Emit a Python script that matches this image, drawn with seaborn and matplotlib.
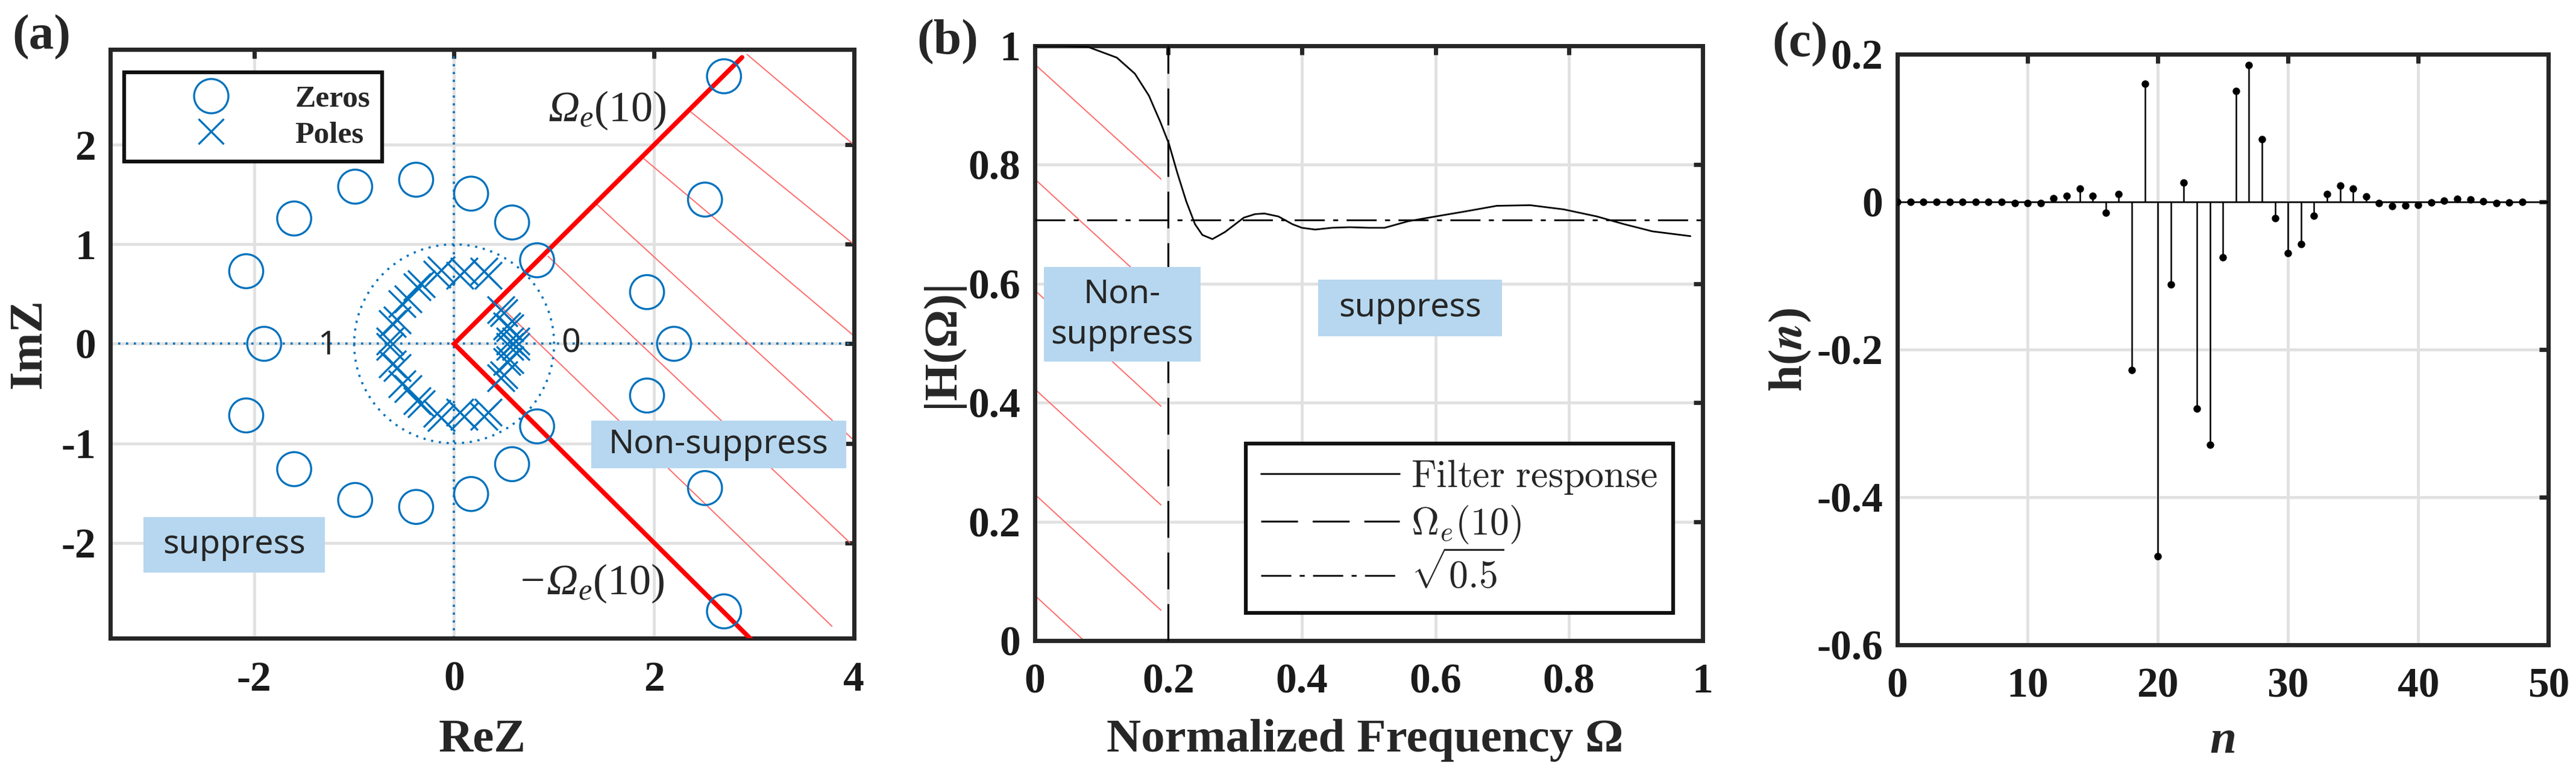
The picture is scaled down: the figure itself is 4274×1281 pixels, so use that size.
import numpy as np
import matplotlib
matplotlib.use("Agg")
import matplotlib.pyplot as plt
import seaborn as sns
from matplotlib.lines import Line2D
from matplotlib.patches import Rectangle, Circle

# ---------------- data ----------------
# (a) pole-zero plot
zeros_re = [2.70, 2.51, 1.93, 2.20, 1.93, 2.51, 2.70,
            0.83, 0.58, 0.17, -0.38, -0.99, -1.60, -2.08, -1.90,
            -2.08, -1.60, -0.99, -0.38, 0.17, 0.58, 0.83]
zeros_im = [2.69, 1.45, 0.52, 0.00, -0.52, -1.45, -2.69,
            0.84, 1.22, 1.51, 1.65, 1.58, 1.26, 0.73, 0.00,
            -0.72, -1.26, -1.57, -1.64, -1.51, -1.21, -0.83]
poles_re = [-0.64, -0.62, -0.57, -0.52, -0.46, -0.37, -0.33, -0.17, -0.13,
            0.10, 0.06, 0.34, 0.30, 0.50, 0.47, 0.56, 0.53, 0.56, 0.62,
            -0.64, -0.62, -0.57, -0.52, -0.46, -0.37, -0.33, -0.17, -0.13,
            0.10, 0.06, 0.34, 0.30, 0.50, 0.47, 0.56, 0.53, 0.56, 0.62]
poles_im = [0.03, 0.20, 0.24, 0.40, 0.45, 0.57, 0.60, 0.70, 0.74,
            0.73, 0.69, 0.69, 0.73, 0.31, 0.34, 0.16, 0.18, 0.03, 0.03,
            -0.03, -0.20, -0.24, -0.40, -0.45, -0.57, -0.60, -0.70, -0.74,
            -0.73, -0.69, -0.69, -0.73, -0.31, -0.34, -0.16, -0.18, -0.03, -0.03]
edge_x = [2.88, 0.0, 3.0]
edge_y = [2.88, 0.0, -3.0]
hatch_a_x0 = [2.93, 2.37, 1.90, 1.43, 0.94, 0.44]
hatch_a_y0 = [2.91, 2.33, 1.86, 1.40, 0.88, 0.40]
hatch_a_x1 = [4.00, 4.00, 4.00, 4.00, 3.96, 3.78]
hatch_a_y1 = [2.00, 1.00, 0.08, -0.97, -2.00, -2.84]
a_xticks = [-2, 0, 2, 4]
a_yticks = [-2, -1, 0, 1, 2]

# (b) magnitude response
omega = [0.0, 0.04, 0.08, 0.123, 0.15, 0.171, 0.188, 0.201, 0.213, 0.227,
         0.240, 0.251, 0.266, 0.285, 0.313, 0.330, 0.344, 0.365, 0.386, 0.400,
         0.420, 0.445, 0.472, 0.500, 0.524, 0.559, 0.600, 0.642, 0.692, 0.742,
         0.792, 0.842, 0.883, 0.925, 0.982]
mag = [1.0, 1.0, 0.998, 0.980, 0.953, 0.916, 0.872, 0.835, 0.788, 0.738,
       0.700, 0.682, 0.675, 0.687, 0.711, 0.717, 0.718, 0.713, 0.700, 0.694,
       0.691, 0.694, 0.695, 0.694, 0.694, 0.705, 0.713, 0.721, 0.731, 0.732,
       0.725, 0.713, 0.700, 0.688, 0.680]
omega_e = 0.2
sqrt_half = 0.707
hatch_b_x = [0.0, 0.189]
hatch_b_y0 = [0.969, 0.776, 0.589, 0.423, 0.246, 0.076]
hatch_b_y1 = [0.776, 0.581, 0.394, 0.228, 0.051, -0.119]
b_ticks = [0, 0.2, 0.4, 0.6, 0.8, 1]
b_labels = ["0", "0.2", "0.4", "0.6", "0.8", "1"]
b_legend = [r"$\mathrm{Filter\ response}$", r"$\Omega_e(10)$", r"$\sqrt{0.5}$"]

# (c) impulse response
n_idx = np.arange(49)
h_vals = [0.0, 0.0, 0.0, 0.0, 0.0, 0.0, 0.0, 0.0, 0.0, -0.002, -0.002, -0.002,
          0.005, 0.008, 0.018, 0.008, -0.015, 0.011, -0.228, 0.160, -0.480,
          -0.112, 0.026, -0.280, -0.329, -0.075, 0.150, 0.185, 0.085, -0.022,
          -0.069, -0.057, -0.019, 0.011, 0.022, 0.018, 0.007, -0.002, -0.006,
          -0.005, -0.004, -0.001, 0.002, 0.004, 0.003, 0.001, -0.002, -0.001, 0.0]
c_xticks = [0, 10, 20, 30, 40, 50]
c_yticks = [-0.6, -0.4, -0.2, 0, 0.2]
c_ylabels = ["-0.6", "-0.4", "-0.2", "0", "0.2"]

# ---------------- style ----------------
sns.set_style("white")
plt.rcParams['font.family'] = ['Liberation Serif', 'DejaVu Serif']
plt.rcParams['font.weight'] = 'bold'
plt.rcParams['axes.unicode_minus'] = False
# custom math font: italic Omega, upright "(10)" through \mathsf, not bold
plt.rcParams['mathtext.fontset'] = 'custom'
plt.rcParams['mathtext.rm'] = 'Liberation Serif:italic:regular'
plt.rcParams['mathtext.it'] = 'Liberation Serif:italic:regular'
plt.rcParams['mathtext.sf'] = 'Liberation Serif:regular'
plt.rcParams['mathtext.bf'] = 'Liberation Serif:bold'

BLUE = '#0072BD'
BOX = '#b6d7ef'
HATCH = '#ff6a6a'
SANS = ['Noto Sans', 'DejaVu Sans']


def style_axes(ax):
    for s in ax.spines.values():
        s.set_visible(True)
        s.set_linewidth(5)
        s.set_color('#262626')
    ax.tick_params(direction='in', length=11, width=5, top=True, right=True,
                   labelsize=50, color='#262626', labelcolor='#1a1a1a')
    ax.tick_params(axis='x', pad=27)
    ax.tick_params(axis='y', pad=17)
    ax.grid(True, color='#e1e1e1', lw=3.5)
    ax.set_axisbelow(True)


fig = plt.figure(figsize=(42.74, 12.81), dpi=100)

# ---------------- (a) ----------------
ax1 = fig.add_axes([0.0428, 0.1733, 0.2887, 0.7627])
style_axes(ax1)
for x0, y0, x1, y1 in zip(hatch_a_x0, hatch_a_y0, hatch_a_x1, hatch_a_y1):
    ax1.plot([x0, x1], [y0, y1], color=HATCH, lw=1.4, zorder=1)
ax1.axhline(0, color=BLUE, lw=2.6, ls=(0, (1, 2.6)), zorder=2)
ax1.axvline(0, color=BLUE, lw=2.6, ls=(0, (1, 2.6)), zorder=2)
ax1.add_patch(Circle((0, 0), 1, fill=False, edgecolor=BLUE, lw=2.6,
                     ls=(0, (1, 2.6)), zorder=2))
ax1.plot(edge_x, edge_y, color='red', lw=5.5, zorder=4, solid_joinstyle='miter')
sns.scatterplot(x=zeros_re, y=zeros_im, ax=ax1, marker='o', s=1650,
                facecolor='none', edgecolor=BLUE, linewidth=2.4, zorder=5, legend=False)
sns.scatterplot(x=poles_re, y=poles_im, ax=ax1, marker='x', s=1050,
                color=BLUE, linewidth=2.4, zorder=5, legend=False)

ax1.add_patch(Rectangle((1.37, -1.25), 2.55, 0.48, facecolor=BOX, edgecolor='none', zorder=6))
ax1.text(2.645, -1.01, 'Non-suppress', family=SANS, weight='normal', fontsize=40,
         ha='center', va='center', zorder=7)
ax1.add_patch(Rectangle((-3.11, -2.30), 1.82, 0.56, facecolor=BOX, edgecolor='none', zorder=6))
ax1.text(-2.20, -2.02, 'suppress', family=SANS, weight='normal', fontsize=40,
         ha='center', va='center', zorder=7)
ax1.text(1.53, 2.35, r'$\Omega_e\mathsf{(10)}$', fontsize=52, fontweight='normal',
         ha='center', va='center', zorder=7)
ax1.text(1.37, -2.41, r'$-\Omega_e\mathsf{(10)}$', fontsize=52, fontweight='normal',
         ha='center', va='center', zorder=7)
ax1.text(-1.27, -0.02, '1', family=SANS, weight='normal', fontsize=40, ha='center', va='center')
ax1.text(1.17, 0.0, '0', family=SANS, weight='normal', fontsize=40, ha='center', va='center')

ax1.set_xlim(-3.44, 4)
ax1.set_ylim(-2.96, 2.96)
ax1.set_xticks(a_xticks)
ax1.set_yticks(a_yticks)
ax1.set_xlabel('ReZ', fontsize=57, fontweight='bold')
ax1.set_ylabel('ImZ', fontsize=57, fontweight='bold')
ax1.xaxis.set_label_coords(0.5, -0.137)
ax1.yaxis.set_label_coords(-0.080, 0.5)

h_zero = Line2D([], [], ls='none', marker='o', ms=41, mfc='none', mec=BLUE, mew=2.4)
h_pole = Line2D([], [], ls='none', marker='x', ms=30, color=BLUE, mew=2.4)
leg1 = ax1.legend([h_zero, h_pole], ['Zeros', 'Poles'], loc='upper left',
                  bbox_to_anchor=(0.019, 0.961), borderaxespad=0, fontsize=37,
                  handlelength=4.8, handletextpad=0.3, borderpad=0.4, labelspacing=0.25,
                  frameon=True, fancybox=False, edgecolor='#111111', framealpha=1)
leg1.get_frame().set_linewidth(4.5)
leg1.set_zorder(10)

# ---------------- (b) ----------------
ax2 = fig.add_axes([0.4017, 0.1702, 0.2592, 0.7705])
style_axes(ax2)
for y0, y1 in zip(hatch_b_y0, hatch_b_y1):
    ax2.plot(hatch_b_x, [y0, y1], color=HATCH, lw=1.4, zorder=1)
sns.lineplot(x=omega, y=mag, ax=ax2, color='black', lw=2.0, zorder=4)
ax2.axvline(omega_e, color='black', lw=2.2, ls=(0, (20, 8)), zorder=3)
ax2.axhline(sqrt_half, color='black', lw=2.0, ls=(0, (18, 5, 3, 5)), zorder=3)

ax2.add_patch(Rectangle((0.014, 0.469), 0.234, 0.159, facecolor=BOX, edgecolor='none', zorder=6))
ax2.text(0.131, 0.548, 'Non-\nsuppress', family=SANS, weight='normal', fontsize=40,
         ha='center', va='center', linespacing=1.3, zorder=7)
ax2.add_patch(Rectangle((0.424, 0.512), 0.276, 0.095, facecolor=BOX, edgecolor='none', zorder=6))
ax2.text(0.562, 0.5595, 'suppress', family=SANS, weight='normal', fontsize=40,
         ha='center', va='center', zorder=7)

ax2.set_xlim(0, 1)
ax2.set_ylim(0, 1)
ax2.set_xticks(b_ticks)
ax2.set_xticklabels(b_labels)
ax2.set_yticks(b_ticks)
ax2.set_yticklabels(b_labels)
ax2.set_xlabel('Normalized Frequency Ω', fontsize=57, fontweight='bold')
ax2.set_ylabel('|H(Ω)|', fontsize=57, fontweight='bold')
ax2.xaxis.set_label_coords(0.495, -0.132)
ax2.yaxis.set_label_coords(-0.1065, 0.5)

b_handles = [Line2D([], [], color='black', lw=2.0),
             Line2D([], [], color='black', lw=2.2, ls=(0, (20, 8))),
             Line2D([], [], color='black', lw=2.0, ls=(0, (18, 5, 3, 5)))]
leg2 = ax2.legend(b_handles, b_legend, loc='lower right', bbox_to_anchor=(0.956, 0.047),
                  borderaxespad=0, fontsize=46, handlelength=3.6, handletextpad=0.3,
                  borderpad=0.4, labelspacing=0.2, frameon=True, fancybox=False,
                  edgecolor='#111111', framealpha=1)
leg2.get_frame().set_linewidth(4.5)
for t in leg2.get_texts():
    t.set_math_fontfamily('cm')

# ---------------- (c) ----------------
ax3 = fig.add_axes([0.7366, 0.1647, 0.2527, 0.765])
style_axes(ax3)
ax3.axhline(0, color='black', lw=1.8, zorder=3)
ax3.vlines(n_idx, 0, h_vals, color='black', lw=1.8, zorder=3)
sns.scatterplot(x=n_idx, y=h_vals, ax=ax3, color='black', s=80, edgecolor='black',
                linewidth=0, zorder=4, legend=False)
ax3.set_xlim(0, 50)
ax3.set_ylim(-0.6, 0.2)
ax3.set_xticks(c_xticks)
ax3.set_yticks(c_yticks)
ax3.set_yticklabels(c_ylabels)
ax3.set_xlabel('n', fontsize=57, fontweight='bold', fontstyle='italic')
ax3.set_ylabel(r'h($\mathbfit{n}$)', fontsize=57, fontweight='bold', math_fontfamily='stix')
ax3.xaxis.set_label_coords(0.5, -0.128)
ax3.yaxis.set_label_coords(-0.130, 0.5)

# panel letters
fig.text(69 / 4274, 1 - 62 / 1281, '(a)', fontsize=60, weight='bold', ha='center', va='center')
fig.text(1572 / 4274, 1 - 70 / 1281, '(b)', fontsize=60, weight='bold', ha='center', va='center')
fig.text(2987 / 4274, 1 - 74 / 1281, '(c)', fontsize=60, weight='bold', ha='center', va='center')

fig.savefig('out.png', dpi=100, facecolor='white')
